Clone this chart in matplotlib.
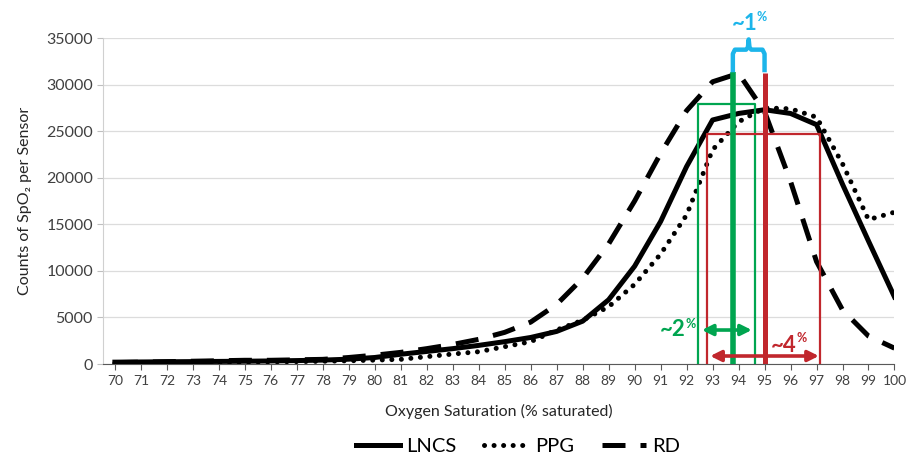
import numpy as np
import matplotlib
matplotlib.use("Agg")
import matplotlib.pyplot as plt

plt.rcParams['font.family'] = ['Lato', 'DejaVu Sans']

# oxygen saturation categories (% saturated)
spo2 = list(range(70, 101))

# counts of SpO2 readings per sensor
lncs = [200, 220, 240, 260, 280, 300, 330, 370, 420, 520, 700,
        1050, 1350, 1650, 2000, 2400, 2850, 3500, 4600, 6900, 10500,
        15300, 21200, 26200, 26900, 27300, 26900, 25700, 19300, 13200, 7200]
ppg = [100, 120, 140, 160, 180, 200, 230, 260, 300, 350, 420,
       500, 790, 1070, 1320, 1860, 2400, 3650, 4700, 6150, 8550,
       11800, 16000, 23000, 26000, 27500, 27400, 26500, 21500, 15500, 16300]
rd = [150, 200, 250, 300, 350, 400, 400, 450, 500, 700, 950,
      1250, 1650, 2100, 2650, 3400, 4500, 6400, 9200, 12900, 17500,
      22600, 27200, 30300, 31200, 27100, 19600, 11000, 5800, 3000, 1700]

# annotation markers
green_peak = (93.78, 31380)
red_peak = (95.0, 31270)
green_box = (92.44, 94.62, 27880)
red_box = (92.78, 97.12, 24690)
green_span = (92.59, 94.51, 3650)
red_span = (92.91, 97.09, 860)

GREEN = '#00a550'
RED = '#c1272d'
BLUE = '#1cb5ea'

fig = plt.figure(figsize=(9.07, 4.58), dpi=100)
ax = fig.add_axes([0.1132, 0.2052, 0.8730, 0.7118])

ax.plot(spo2, rd, color='black', lw=3.6, dashes=[4.6, 3.0], label='RD', zorder=3)
ax.plot(spo2, lncs, color='black', lw=3.6, solid_joinstyle='round', label='LNCS', zorder=4)
ax.plot(spo2, ppg, color='black', lw=3.6, dashes=[0.01, 1.9], dash_capstyle='round',
        label='PPG', zorder=4)

# boxes
gx0, gx1, gtop = green_box
ax.plot([gx0, gx0, gx1, gx1], [0, gtop, gtop, 0], color=GREEN, lw=1.6, zorder=5)
rx0, rx1, rtop = red_box
ax.plot([rx0, rx0, rx1, rx1], [0, rtop, rtop, 0], color=RED, lw=1.6, zorder=5)

# thick peak lines
ax.plot([green_peak[0], green_peak[0]], [0, green_peak[1]], color=GREEN, lw=4, zorder=6,
        solid_capstyle='butt')
ax.plot([red_peak[0], red_peak[0]], [0, red_peak[1]], color=RED, lw=3.6, zorder=6,
        solid_capstyle='butt')

# double arrows
for (a, b, yv), col in [(green_span, GREEN), (red_span, RED)]:
    ax.annotate('', xy=(b, yv), xytext=(a, yv),
                arrowprops=dict(arrowstyle='<|-|>', color=col, lw=2.6,
                                mutation_scale=16, shrinkA=0, shrinkB=0),
                zorder=7)

# curly brace between peaks
bl, br = green_peak[0], red_peak[0]
mid = (bl + br) / 2
bx = [bl, bl, bl + 0.08, mid - 0.1, mid - 0.03, mid, mid + 0.03, mid + 0.1, br - 0.08, br, br]
by = [31560, 33300, 33750, 33750, 34000, 34850, 34000, 33750, 33750, 33300, 31560]
ax.plot(bx, by, color=BLUE, lw=3.2, clip_on=False, zorder=7, solid_joinstyle='round')

# labels
def pct_label(x, y, px, py, text, col):
    ax.text(x, y, text, color=col, fontsize=16, fontweight='bold', ha='center',
            va='center', clip_on=False, zorder=8)
    ax.text(px, py, '%', color=col, fontsize=9, fontweight='bold', ha='left',
            va='center', clip_on=False, zorder=8)

pct_label(94.22, 36560, 94.68, 37250, '~1', BLUE)
pct_label(91.45, 3704, 91.95, 4350, '~2', GREEN)
pct_label(95.72, 2040, 96.24, 2750, '~4', RED)

ax.set_xlim(69.53, 100)
ax.set_ylim(0, 35000)
ax.set_xticks(spo2)
ax.set_xticklabels([str(v) for v in spo2])
ax.set_yticks(range(0, 35001, 5000))
ax.tick_params(axis='x', labelsize=10, colors='#595959', length=4, width=0.8,
               labelcolor='#404040', pad=4)
ax.tick_params(axis='y', labelsize=11.5, colors='#bfbfbf', length=4, width=0.8,
               labelcolor='#404040', pad=3)
ax.grid(axis='y', color='#dcdcdc', lw=0.9)
ax.set_axisbelow(True)
for s in ['top', 'right']:
    ax.spines[s].set_visible(False)
ax.spines['left'].set_color('#d0d0d0')
ax.spines['bottom'].set_color('#595959')

ax.set_xlabel('Oxygen Saturation (% saturated)', fontsize=11.5, color='#262626', labelpad=12)
ax.set_ylabel('Counts of SpO₂ per Sensor', fontsize=11.5, color='#262626', labelpad=10)

handles, labels = ax.get_legend_handles_labels()
order = [labels.index(n) for n in ['LNCS', 'PPG', 'RD']]
fig.legend([handles[i] for i in order], [labels[i] for i in order],
           loc='center', bbox_to_anchor=(0.571, 0.025), ncol=3, frameon=False,
           fontsize=14.5, handlelength=2.2, columnspacing=1.4, handletextpad=0.3)

fig.savefig('out.png', dpi=100)
